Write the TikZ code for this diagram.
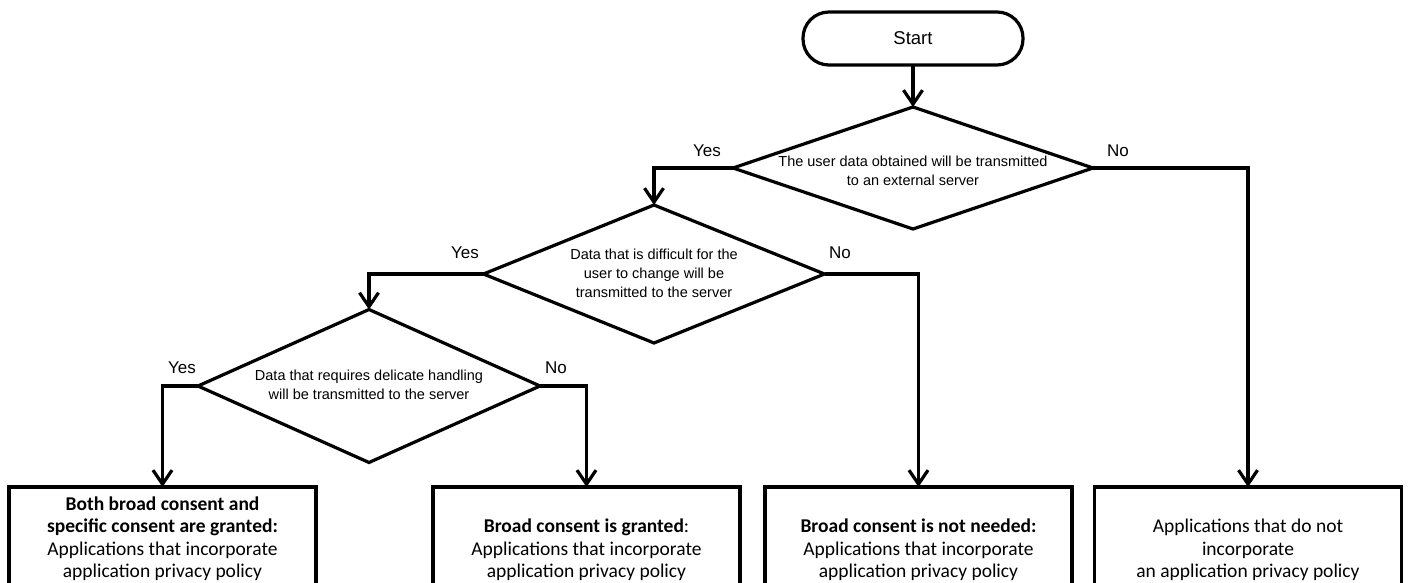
\documentclass[tikz,border=0pt]{standalone}
\usepackage{fontspec}
\setmainfont{Carlito}
\newfontfamily\gothic{Liberation Sans}
\usetikzlibrary{arrows.meta,shapes.geometric}
\begin{document}
\begin{tikzpicture}[x=1pt,y=-1pt,line width=3.2pt,
  arr/.style={-{Straight Barb[length=14pt,width=19pt]}},
  dec/.style={diamond,draw,inner sep=0pt,outer sep=0pt},
  dtext/.style={font=\gothic\fontsize{14.5}{19}\selectfont,align=center,inner sep=0pt},
  yn/.style={font=\gothic\fontsize{17}{20}\selectfont,inner sep=0pt},
  outbox/.style={draw,rectangle,minimum width=307pt,minimum height=125pt,anchor=north,inner sep=0pt,outer sep=0pt},
  otext/.style={font=\fontsize{19.5}{22.5}\selectfont,align=center,anchor=north,inner sep=0pt},
  startbox/.style={draw,rectangle,rounded corners=26pt,minimum width=220pt,minimum height=53pt,inner sep=0pt,outer sep=0pt,font=\gothic\fontsize{18.5}{20}\selectfont}]
\useasboundingbox (0,0) rectangle (1408,583);
\clip (0,0) rectangle (1408,583);
% start
\node[startbox] (start) at (913,38.5) {Start};
% decisions
\node[dec,minimum width=360pt,minimum height=122pt] (d1) at (913,168) {};
\node[dtext] (d1t) at (913,171) {The user data obtained will be transmitted\\to an external server};
\node[dec,minimum width=341pt,minimum height=138pt] (d2) at (654,274) {};
\node[dtext] (d2t) at (654,273) {Data that is difficult for the\\user to change will be\\transmitted to the server};
\node[dec,minimum width=342pt,minimum height=153pt] (d3) at (369,386) {};
\node[dtext] (d3t) at (369,385) {Data that requires delicate handling\\will be transmitted to the server};
% outcome boxes
\node[outbox] (b1) at (162.5,487) {};
\node[outbox] (b2) at (586.5,487) {};
\node[outbox] (b3) at (918.5,487) {};
\node[outbox] (b4) at (1248,487) {};
\node[otext] (t1) at ([yshift=-8pt]b1.north) {\textbf{Both broad consent and}\\\textbf{specific consent are granted:}\\Applications that incorporate\\application privacy policy};
\node[otext] (t2) at ([yshift=-30.5pt]b2.north) {\textbf{Broad consent is granted}:\\Applications that incorporate\\application privacy policy};
\node[otext] (t3) at ([yshift=-30.5pt]b3.north) {\textbf{Broad consent is not needed:}\\Applications that incorporate\\application privacy policy};
\node[otext] (t4) at ([yshift=-30.5pt]b4.north) {Applications that do not\\incorporate\\an application privacy policy};
% connectors
\draw[arr] (start.south) -- (d1.north);
\draw[arr] (d1.west) -| (d2.north);
\draw[arr] (d1.east) -| (b4.north);
\draw[arr] (d2.west) -| (d3.north);
\draw[arr] (d2.east) -| (b3.north);
\draw[arr] (d3.west) -| (b1.north);
\draw[arr] (d3.east) -| (b2.north);
% labels
\node[yn] (y1) at (707,151) {Yes};
\node[yn] (n1) at (1118,151) {No};
\node[yn] (y2) at (465,253) {Yes};
\node[yn] (n2) at (840,253) {No};
\node[yn] (y3) at (182,368) {Yes};
\node[yn] (n3) at (556,368) {No};
\end{tikzpicture}
\end{document}
